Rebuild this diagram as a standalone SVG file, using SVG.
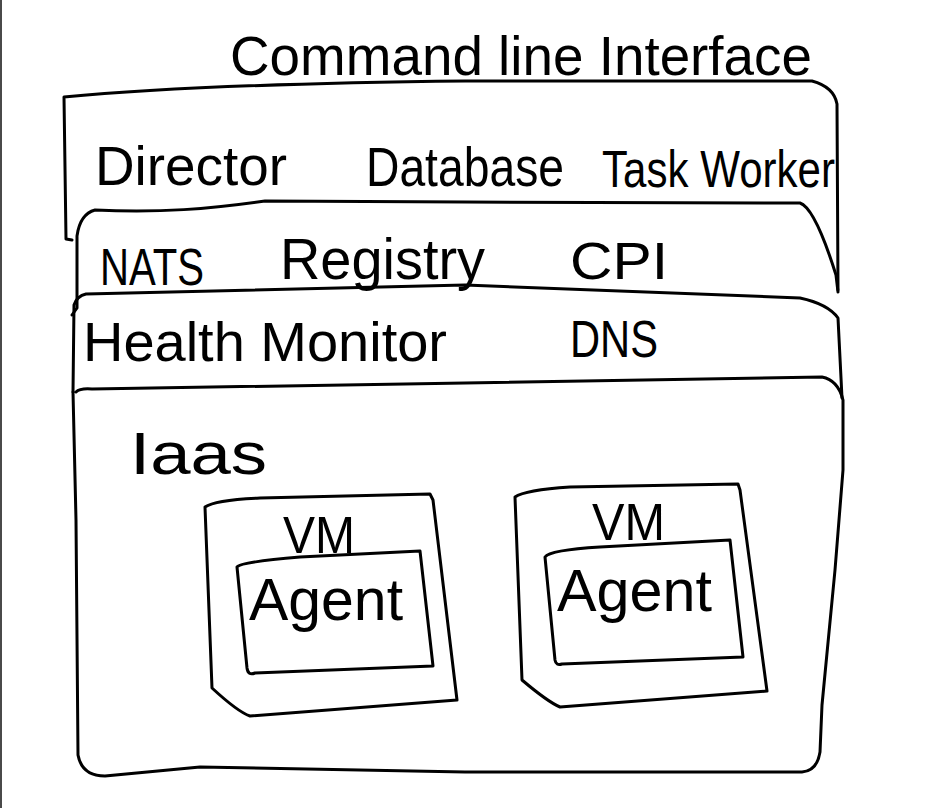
<svg xmlns="http://www.w3.org/2000/svg" width="930" height="808" viewBox="0 0 930 808">
<style>
.ln{fill:none;stroke:#000;stroke-width:3;stroke-linecap:round;stroke-linejoin:round}
.t{font-family:"Liberation Sans",Arial,sans-serif;fill:#000;font-weight:normal}
</style>
<rect x="0" y="0" width="930" height="808" fill="#fff"/>
<rect x="0" y="0" width="2" height="808" fill="#4a4a4a"/>
<g id="cli">
<text class="t" x="230" y="75" font-size="56" textLength="582" lengthAdjust="spacingAndGlyphs">Command line Interface</text>
</g>
<g id="layer-director">
<path class="ln" d="M72,240 L66,239 L64,97 Q200,84 465,81 L812,81 Q834,87 837,104 L838,290"/>
<text class="t" x="95" y="185" font-size="56" textLength="192" lengthAdjust="spacingAndGlyphs">Director</text>
<text class="t" x="366" y="186" font-size="56" textLength="198" lengthAdjust="spacingAndGlyphs">Database</text>
<text class="t" x="602" y="187" font-size="52" textLength="233" lengthAdjust="spacingAndGlyphs">Task Worker</text>
</g>
<g id="layer-nats">
<path class="ln" d="M72,315 L77,308 L77,236 Q80,214 95,210 C160,213 210,209 265,201 L465,202 L800,203 Q815,208 836,275 L838,292"/>
<text class="t" x="100" y="285" font-size="52" textLength="104" lengthAdjust="spacingAndGlyphs">NATS</text>
<text class="t" x="280" y="279" font-size="58" textLength="205" lengthAdjust="spacingAndGlyphs">Registry</text>
<text class="t" x="570" y="279" font-size="52" textLength="98" lengthAdjust="spacingAndGlyphs">CPI</text>
</g>
<g id="layer-health">
<path class="ln" d="M73,392 L74,305 Q77,296 86,294 L465,285 L800,298 Q828,304 838,318 L842,398"/>
<text class="t" x="83" y="361" font-size="56" textLength="364" lengthAdjust="spacingAndGlyphs">Health Monitor</text>
<text class="t" x="570" y="357" font-size="52" textLength="88" lengthAdjust="spacingAndGlyphs">DNS</text>
</g>
<g id="layer-iaas">
<path class="ln" d="M76,392 Q80,388 92,389 L465,383 L822,377 Q838,380 843,400 L843,470 L835,570 L822,705 L820,752 Q817,771 802,772 L465,772 L200,767 L105,776 Q82,776 78,755 L76,520 L73,392"/>
<text class="t" x="130" y="474" font-size="60" textLength="137" lengthAdjust="spacingAndGlyphs">Iaas</text>
</g>
<g id="vm1">
<path class="ln" d="M205,507 Q215,500 260,498 L430,494 L433,500 L457,700 L250,716 Q238,712 212,688 L205,507 Z"/>
<text class="t" x="283" y="553" font-size="52" textLength="72" lengthAdjust="spacingAndGlyphs">VM</text>
</g>
<g id="agent1">
<path class="ln" d="M237,567 Q240,562 300,557 L420,551 L433,666 L255,673 Q248,676 247,668 L237,567 Z"/>
<text class="t" x="249" y="620" font-size="60" textLength="154" lengthAdjust="spacingAndGlyphs">Agent</text>
</g>
<g id="vm2">
<path class="ln" d="M515,497 Q525,490 570,487 L738,484 L740,490 L767,691 L560,707 Q548,702 522,680 L515,497 Z"/>
<text class="t" x="592" y="540" font-size="52" textLength="73" lengthAdjust="spacingAndGlyphs">VM</text>
</g>
<g id="agent2">
<path class="ln" d="M545,557 Q550,550 600,547 L730,540 L743,657 L562,664 Q556,666 555,660 L545,557 Z"/>
<text class="t" x="557" y="611" font-size="60" textLength="155" lengthAdjust="spacingAndGlyphs">Agent</text>
</g>
<g id="connectors"></g>
</svg>
